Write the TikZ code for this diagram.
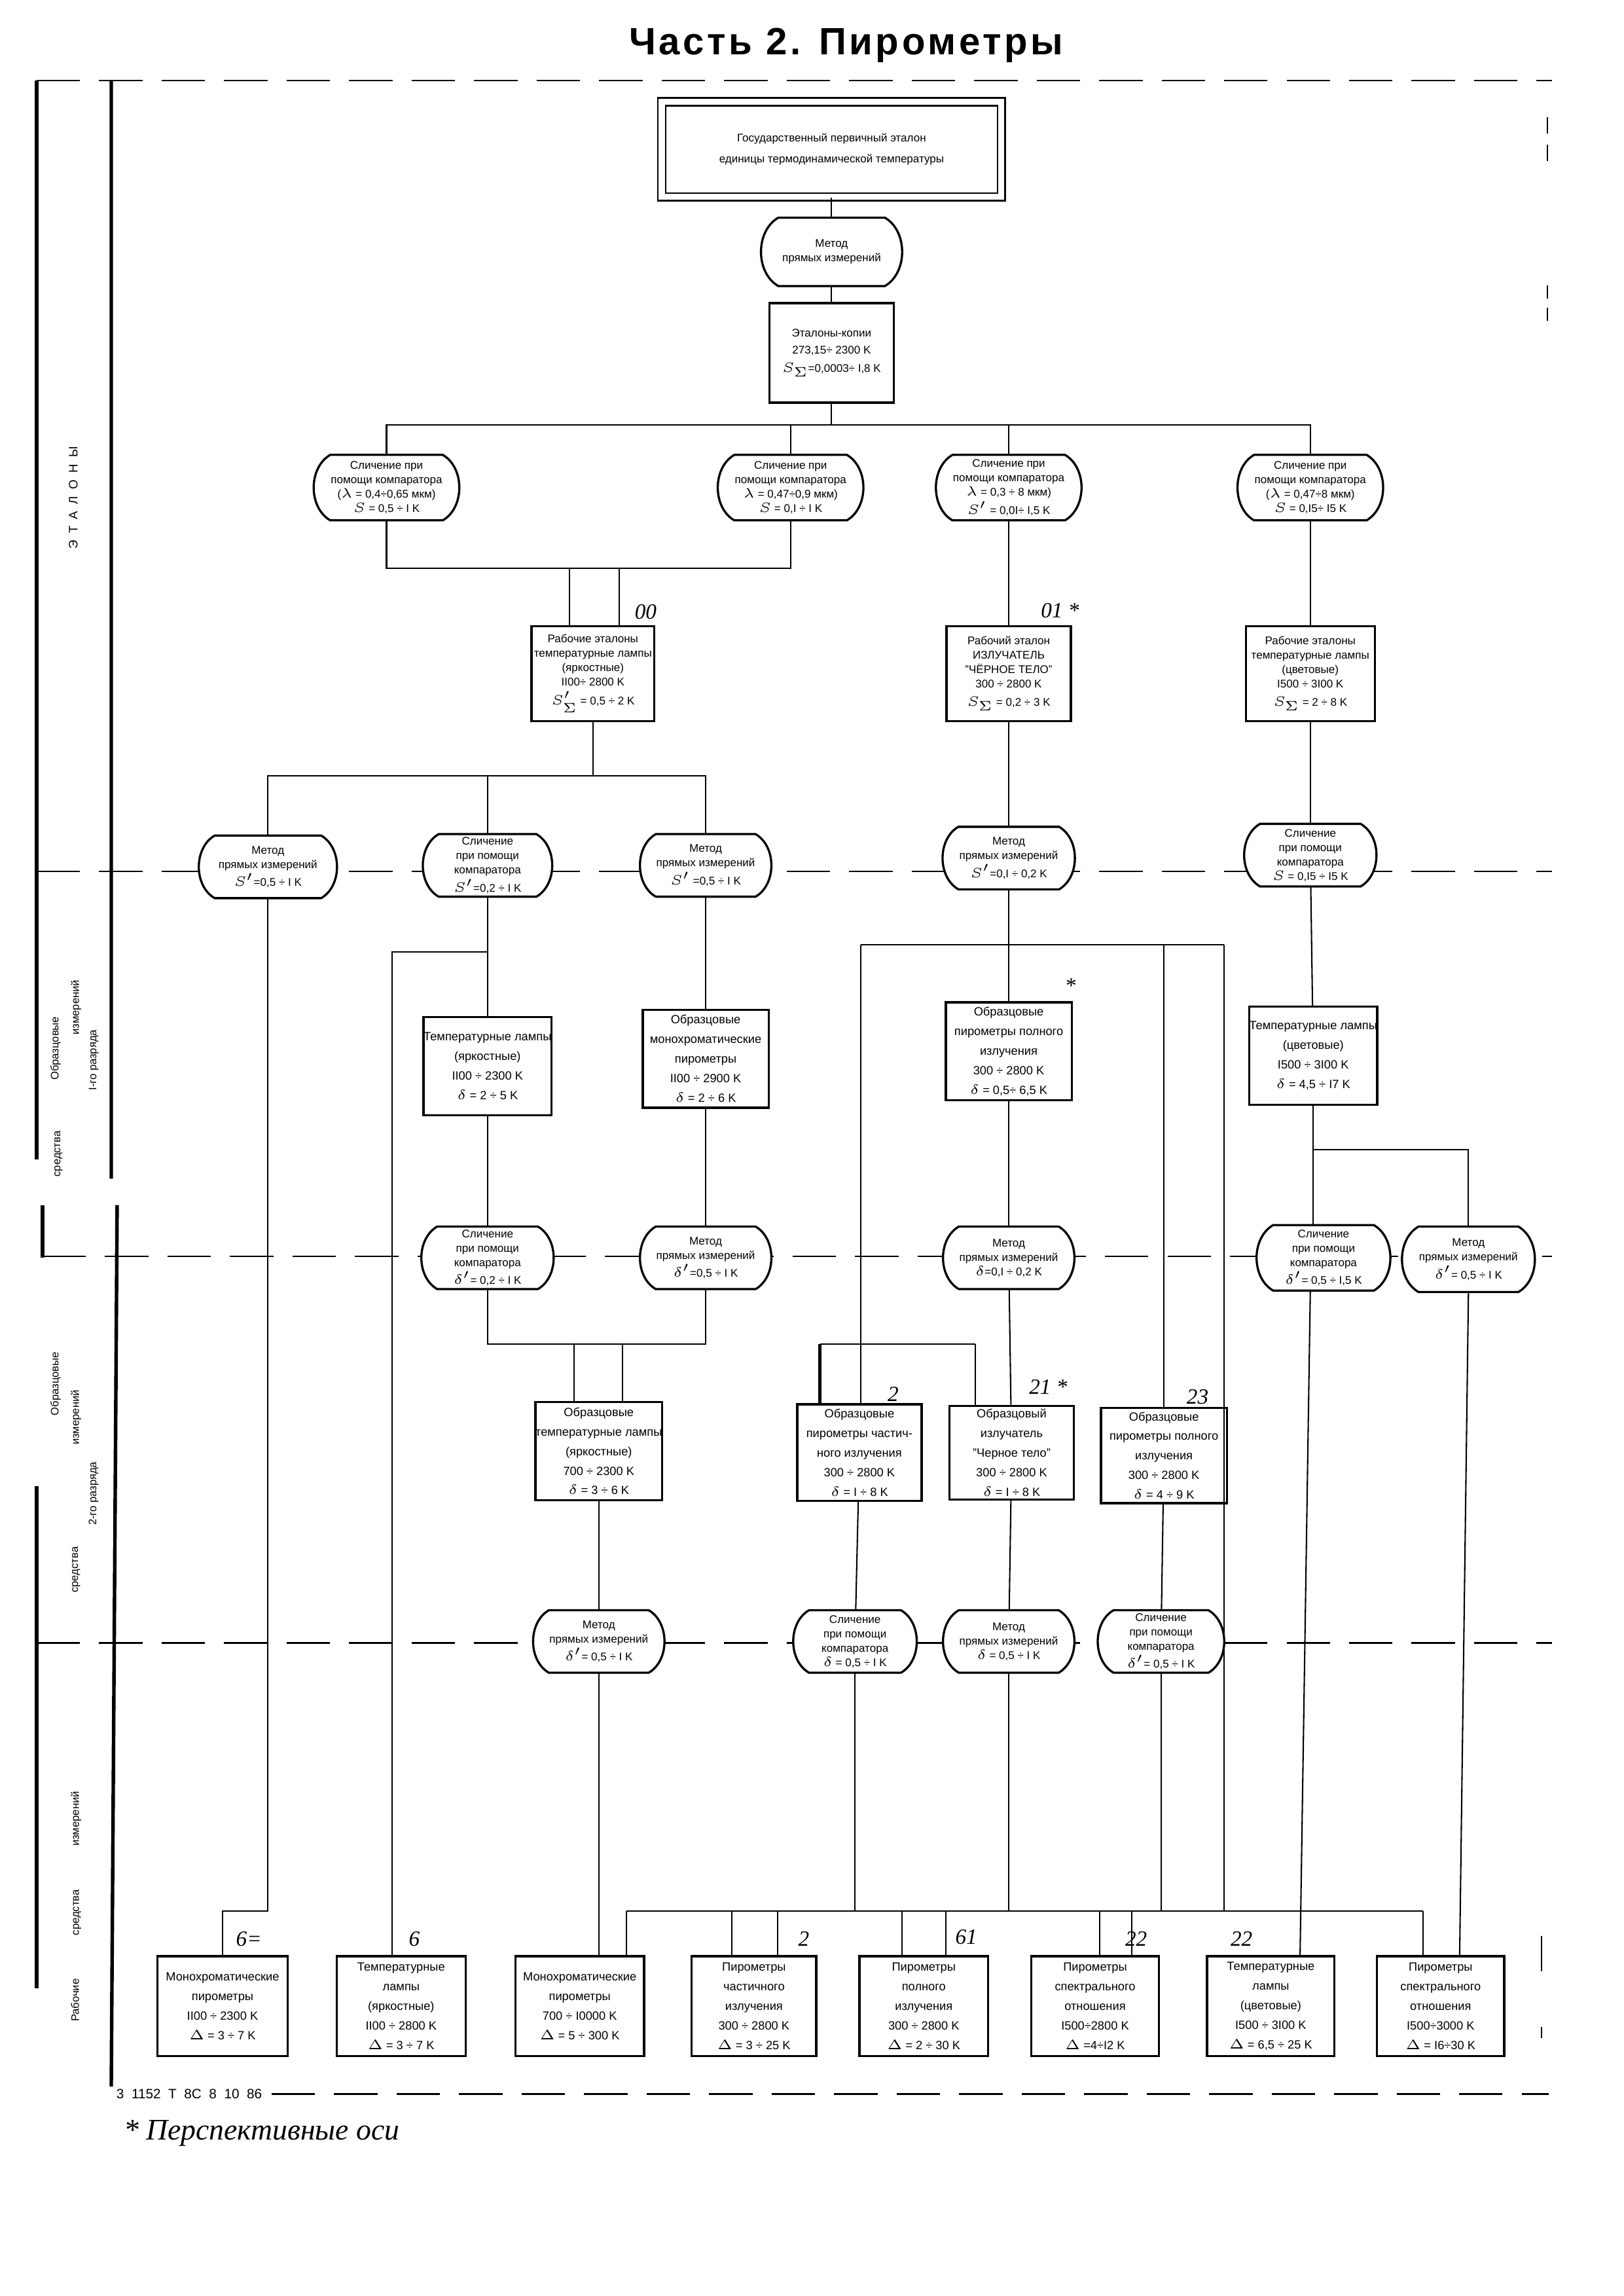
\documentclass[tikz,border=0pt]{standalone}
\usepackage{fontspec}
\setmainfont{Liberation Sans}
\newfontfamily\zagfont[LetterSpace=8]{Liberation Sans}
\newfontfamily\rukafont{Liberation Serif}
\usetikzlibrary{calc}
\pgfdeclarelayer{background}
\pgfsetlayers{background,main}

\newcommand{\pix}{0.018936cm}
\newcommand{\fs}{\fontsize{4.1}{5.3}\selectfont}
\newcommand{\fsb}{\fontsize{4.4}{7.2}\selectfont}
\newcommand{\sig}[1]{#1_{\scriptscriptstyle\Sigma}}
% bochka: method node with convex sides
\newcommand{\bochka}[1]{\draw[obvod, fill=white] (#1.north west) -- (#1.north east)
  to[bend left=60] (#1.south east) -- (#1.south west) to[bend left=60] (#1.north west) -- cycle;}

\tikzset{
  box/.style={draw, line width=0.8pt, align=center, font=\fs, inner sep=0pt},
  nbox/.style={box, font=\fsb},
  metod/.style={align=center, font=\fs, inner sep=0pt},
  obvod/.style={line width=0.8pt},
  sz/.style 2 args={minimum width=#1*\pix, minimum height=#2*\pix},
  link/.style={line width=0.5pt},
  razd/.style={line width=0.6pt, dash pattern=on 16pt off 7pt},
  ramka/.style={line width=1.3pt},
  metka/.style={font=\rukafont\itshape\fontsize{8}{8}\selectfont},
  bok/.style={rotate=90, font=\fontsize{4}{5}\selectfont},
}

\begin{document}
\begin{tikzpicture}[x=\pix, y=-\pix]
  \useasboundingbox (0,0) rectangle (1109,1568);

  % title
  \node[font=\zagfont\bfseries\fontsize{14}{16}\selectfont] (zag) at (578,31) {Часть 2. Пирометры};

  % left column labels
  \node[bok, font=\fontsize{4.5}{5}\selectfont] (l9) at (50,340) {Э\ \ Т\ \ А\ \ Л\ \ О\ \ Н\ \ Ы};
  \node[bok] (l1) at (38,716) {Образцовые};
  \node[bok] (l2) at (52,688) {измерений};
  \node[bok] (l3) at (64,724) {I-го разряда};
  \node[bok] (l0) at (40,788) {средства};
  \node[bok] (l4) at (38,945) {Образцовые};
  \node[bok] (l5) at (52,968) {измерений};
  \node[bok] (l6) at (64,1020) {2-го разряда};
  \node[bok] (l7) at (52,1072) {средства};
  \node[bok] (l8) at (52,1302) {Рабочие\hspace{16pt}средства\hspace{16pt}измерений};

  % etalony
  \node[box, double, double distance=2.2pt, line width=0.6pt, sz={232}{65}] (gos) at (568,102)
    {Государственный первичный эталон\\[2.5pt]единицы термодинамической температуры};
  \node[metod, sz={72}{46}] (m0) at (568,172) {Метод\\прямых измерений};
  \node[box, sz={85}{68}] (kop) at (568,241) {Эталоны-копии\\[1pt]273,15÷ 2300 K\\[1.5pt]$\sig{S}$=0,0003÷ I,8 K};

  \node[metod, sz={68}{44}] (k1) at (264,333) {Сличение при\\помощи компаратора\\($\lambda$ = 0,4÷0,65 мкм)\\$S$ = 0,5 ÷ I K};
  \node[metod, sz={66}{44}] (k2) at (540,333) {Сличение при\\помощи компаратора\\$\lambda$ = 0,47÷0,9 мкм)\\$S$ = 0,I ÷ I K};
  \node[metod, sz={68}{44}] (k3) at (689,333) {Сличение при\\помощи компаратора\\$\lambda$ = 0,3 ÷ 8 мкм)\\$S'$ = 0,0I÷ I,5 K};
  \node[metod, sz={70}{44}] (k4) at (895,333) {Сличение при\\помощи компаратора\\($\lambda$ = 0,47÷8 мкм)\\$S$ = 0,I5÷ I5 K};

  \node[box, sz={84}{65}] (re1) at (405,460) {Рабочие эталоны\\температурные лампы\\(яркостные)\\II00÷ 2800 K\\[1.5pt]$\sig{S'}$ = 0,5 ÷ 2 K};
  \node[box, sz={85}{65}] (re2) at (689,460) {Рабочий эталон\\ИЗЛУЧАТЕЛЬ\\"ЧЁРНОЕ ТЕЛО"\\300 ÷ 2800 K\\[1.5pt]$\sig{S}$ = 0,2 ÷ 3 K};
  \node[box, sz={88}{65}] (re3) at (895,460) {Рабочие эталоны\\температурные лампы\\(цветовые)\\I500 ÷ 3I00 K\\[1.5pt]$\sig{S}$ = 2 ÷ 8 K};

  % I-go razryada
  \node[metod, sz={72}{42}] (m1) at (183,592) {Метод\\прямых измерений\\$S'$=0,5 ÷ I K};
  \node[metod, sz={66}{42}] (s1) at (333,591) {Сличение\\при помощи\\компаратора\\$S'$=0,2 ÷ I K};
  \node[metod, sz={66}{42}] (m2) at (482,591) {Метод\\прямых измерений\\$S'$ =0,5 ÷ I K};
  \node[metod, sz={68}{42}] (m3) at (689,586) {Метод\\прямых измерений\\$S'$=0,I ÷ 0,2 K};
  \node[metod, sz={68}{42}] (s2) at (895,584) {Сличение\\при помощи\\компаратора\\$S$ = 0,I5 ÷ I5 K};

  \node[nbox, sz={83}{67}] (o1a) at (333,728) {Температурные лампы\\(яркостные)\\II00 ÷ 2300 K\\$\delta$ = 2 ÷ 5 K};
  \node[nbox, sz={86}{67}] (o1b) at (482,723) {Образцовые\\монохроматические\\пирометры\\II00 ÷ 2900 K\\$\delta$ = 2 ÷ 6 K};
  \node[nbox, sz={86}{67}] (o1c) at (689,718) {Образцовые\\пирометры полного\\излучения\\300 ÷ 2800 K\\$\delta$ = 0,5÷ 6,5 K};
  \node[nbox, sz={85}{67}] (o1d) at (897,721) {Температурные лампы\\(цветовые)\\I500 ÷ 3I00 K\\$\delta$ = 4,5 ÷ I7 K};

  % 2-go razryada
  \node[metod, sz={68}{42}] (s3) at (333,859) {Сличение\\при помощи\\компаратора\\$\delta'$= 0,2 ÷ I K};
  \node[metod, sz={66}{42}] (m4) at (482,859) {Метод\\прямых измерений\\$\delta'$=0,5 ÷ I K};
  \node[metod, sz={66}{42}] (m5) at (689,859) {Метод\\прямых измерений\\$\delta$=0,I ÷ 0,2 K};
  \node[metod, sz={68}{44}] (s4) at (904,859) {Сличение\\при помощи\\компаратора\\$\delta'$= 0,5 ÷ I,5 K};
  \node[metod, sz={62}{44}] (m6) at (1003,860) {Метод\\прямых измерений\\$\delta'$= 0,5 ÷ I K};

  \node[nbox, sz={86}{67}] (o2a) at (409,991) {Образцовые\\температурные лампы\\(яркостные)\\700 ÷ 2300 K\\$\delta$ = 3 ÷ 6 K};
  \node[nbox, sz={85}{66}] (o2b) at (587,992) {Образцовые\\пирометры частич-\\ного излучения\\300 ÷ 2800 K\\$\delta$ = I ÷ 8 K};
  \node[nbox, sz={85}{64}] (o2c) at (691,992) {Образцовый\\излучатель\\"Черное тело"\\300 ÷ 2800 K\\$\delta$ = I ÷ 8 K};
  \node[nbox, sz={86}{65}] (o2d) at (795,994) {Образцовые\\пирометры полного\\излучения\\300 ÷ 2800 K\\$\delta$ = 4 ÷ 9 K};

  % rabochie
  \node[metod, sz={66}{42}] (m7) at (409,1121) {Метод\\прямых измерений\\$\delta'$= 0,5 ÷ I K};
  \node[metod, sz={62}{42}] (s5) at (584,1121) {Сличение\\при помощи\\компаратора\\$\delta$ = 0,5 ÷ I K};
  \node[metod, sz={62}{42}] (m8) at (689,1121) {Метод\\прямых измерений\\$\delta$ = 0,5 ÷ I K};
  \node[metod, sz={64}{42}] (s6) at (793,1121) {Сличение\\при помощи\\компаратора\\$\delta'$= 0,5 ÷ I K};

  \node[nbox, sz={89}{68}] (b1) at (152,1370) {Монохроматические\\пирометры\\II00 ÷ 2300 K\\$\Delta$ = 3 ÷ 7 K};
  \node[nbox, sz={88}{68}] (b2) at (274,1370) {Температурные\\лампы\\(яркостные)\\II00 ÷ 2800 K\\$\Delta$ = 3 ÷ 7 K};
  \node[nbox, sz={88}{68}] (b3) at (396,1370) {Монохроматические\\пирометры\\700 ÷ I0000 K\\$\Delta$ = 5 ÷ 300 K};
  \node[nbox, sz={85}{68}] (b4) at (515,1370) {Пирометры\\частичного\\излучения\\300 ÷ 2800 K\\$\Delta$ = 3 ÷ 25 K};
  \node[nbox, sz={88}{68}] (b5) at (631,1370) {Пирометры\\полного\\излучения\\300 ÷ 2800 K\\$\Delta$ = 2 ÷ 30 K};
  \node[nbox, sz={87}{68}] (b6) at (748,1370) {Пирометры\\спектрального\\отношения\\I500÷2800 K\\$\Delta$ =4÷I2 K};
  \node[nbox, sz={87}{68}] (b7) at (868,1370) {Температурные\\лампы\\(цветовые)\\I500 ÷ 3I00 K\\$\Delta$ = 6,5 ÷ 25 K};
  \node[nbox, sz={87}{68}] (b8) at (984,1370) {Пирометры\\спектрального\\отношения\\I500÷3000 K\\$\Delta$ = I6÷30 K};

  % junctions
  \coordinate (j1) at (568,290);
  \coordinate (j2) at (405,388);
  \coordinate (j3) at (405,530);
  \coordinate (j4) at (333,650);
  \coordinate (j5) at (689,645);
  \coordinate (j6) at (897,785);
  \coordinate (j7) at (409,918);
  \coordinate (j8) at (588,918);
  \coordinate (j9) at (700,1305);

  % connectors
  \draw[link] (gos) -- (m0);
  \draw[link] (m0) -- (kop);
  \draw[link] (kop) -- (j1);
  \draw[link] (k1.north) |- (j1) -| (k4.north);
  \draw[link] (k2.north) -- (k2.north |- j1);
  \draw[link] (k3.north) -- (k3.north |- j1);
  \draw[link] (k1.south) |- (j2) -| (k2.south);
  \draw[link] (389,388) -- (re1.north -| 389,0);
  \draw[link] (423,388) -- (re1.north -| 423,0);
  \draw[link] (k3) -- (re2);
  \draw[link] (k4) -- (re3);
  \draw[link] (re1) -- (j3);
  \draw[link] (m1.north) |- (j3) -| (m2.north);
  \draw[link] (s1.north) -- (s1.north |- j3);
  \draw[link] (re2) -- (m3);
  \draw[link] (re3) -- (s2);
  \draw[link] (s1) -- (o1a);
  \draw[link] (j4) -| (b2.north -| 268,0);
  \draw[link] (m2) -- (o1b);
  \draw[link] (m3) -- (o1c);
  \draw[link] (s2) -- (o1d);
  \draw[link] (588,645) -- (836,645);
  \draw[link] (588,645) -- (o2b.north -| 588,0);
  \draw[link] (795,645) -- (o2d.north -| 795,0);
  \draw[link] (836,645) -- (836,1305);
  \draw[link] (m1.south) -- (183,1305) -- (152,1305) -- (b1.north);
  \draw[link] (o1a) -- (s3);
  \draw[link] (o1b) -- (m4);
  \draw[link] (o1c) -- (m5);
  \draw[link] (o1d.south) -- (j6) -- (1003,785) -- (m6.north);
  \draw[link] (j6) -- (s4.north -| 897,0);
  \draw[link] (s3.south) |- (j7) -| (m4.south);
  \draw[link] (392,918) -- (o2a.north -| 392,0);
  \draw[link] (425,918) -- (o2a.north -| 425,0);
  \draw[link] (m5) -- (o2c);
  \draw[link] (560,918) -- (666,918);
  \draw[line width=1pt] (560,918) -- (o2b.north -| 560,0);
  \draw[link] (666,918) -- (o2c.north -| 666,0);
  \draw[link] (o2a) -- (m7);
  \draw[link] (o2b) -- (s5);
  \draw[link] (o2c) -- (m8);
  \draw[link] (o2d) -- (s6);
  \draw[link] (m7.south) -- (b3.north -| 409,0);
  \draw[link] (428,1305) -- (972,1305);
  \draw[link] (s5.south) -- (s5.south |- j9);
  \draw[link] (m8.south) -- (m8.south |- j9);
  \draw[link] (s6.south) -- (s6.south |- j9);
  \foreach \xx in {428,500,531,616,646,751,773,972}
    \draw[link] (\xx,1305) -- (\xx,1336);
  \draw[link] (s4.south -| 895,0) -- (b7.north -| 888,0);
  \draw[link] (m6.south) -- (b8.north -| 997,0);

  % handwritten marks
  \node[metka] (n1) at (441,418) {00};
  \node[metka] (n2) at (724,417) {01 *};
  \node[metka] (n3) at (731,673) {*};
  \node[metka] (n4) at (610,952) {2};
  \node[metka] (n5) at (716,947) {21 *};
  \node[metka] (n6) at (818,954) {23};
  \node[metka] (n7) at (170,1324) {6=};
  \node[metka] (n8) at (283,1324) {6};
  \node[metka] (n9) at (549,1324) {2};
  \node[metka] (n10) at (660,1323) {61};
  \node[metka] (n11) at (776,1324) {22};
  \node[metka] (n12) at (848,1324) {22};

  % footer
  \node[font=\fontsize{5}{6}\selectfont, anchor=west] (shifr) at (73,1430) {3\ \ 1152\ \ T\ \ 8C\ \ 8\ \ 10\ \ 86};
  \node[metka, font=\rukafont\itshape\fontsize{11}{12}\selectfont, anchor=west] (prim) at (78,1457) {* Перспективные оси};

  \begin{pgfonlayer}{background}
    % frame and levels
    \draw[razd] (25,55) -- (1060,55);
    \draw[ramka] (25,55) -- (25,792) (29,823) -- (29,859) (25,1015) -- (25,1358);
    \draw[ramka] (76,55) -- (76,805) (80,823) -- (76,1425);
    \draw[link] (1057,80) -- (1057,91) (1057,99) -- (1057,110) (1057,195) -- (1057,204)
      (1057,210) -- (1057,219) (1053,1322) -- (1053,1346) (1053,1384) -- (1053,1392);
    \draw[razd] (25,595) -- (1060,595);
    \draw[razd] (29,858) -- (1060,858);
    \draw[razd] (25,1122) -- (1060,1122);
    \draw[razd] (shifr.east) -- (1058,1430);
    % method outlines
    \foreach \nm in {m0,k1,k2,k3,k4,m1,s1,m2,m3,s2,s3,m4,m5,s4,m6,m7,s5,m8,s6}
      {\bochka{\nm}}
  \end{pgfonlayer}
\end{tikzpicture}
\end{document}
